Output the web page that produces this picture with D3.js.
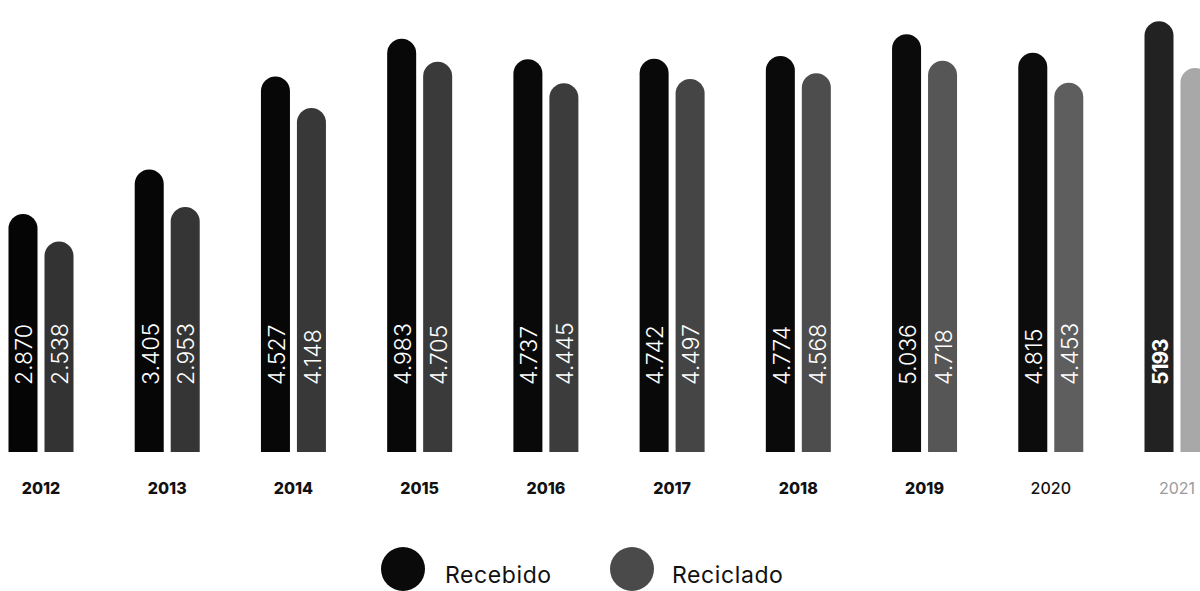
<!DOCTYPE html>
<html>
<head>
<meta charset="utf-8">
<script src="https://cdn.jsdelivr.net/npm/d3@7"></script>
<style>
  html, body { margin: 0; padding: 0; background: #fff; overflow: hidden; }
  svg { display: block; }
</style>
</head>
<body>
<svg id="chart" width="1200" height="591"></svg>
<script>
// ---- data ----
const years = ["2012", "2013", "2014", "2015", "2016", "2017", "2018", "2019", "2020", "2021"];
const series = ["Recebido", "Reciclado"];
const recebido = [2870, 3405, 4527, 4983, 4737, 4742, 4774, 5036, 4815, 5193];
const reciclado = [2538, 2953, 4148, 4705, 4445, 4497, 4568, 4718, 4453, 4630];
const recebidoLabels = ["2.870", "3.405", "4.527", "4.983", "4.737", "4.742", "4.774", "5.036", "4.815", "5193"];
const recicladoLabels = ["2.538", "2.953", "4.148", "4.705", "4.445", "4.497", "4.568", "4.718", "4.453", ""];

// ---- layout ----
const svg = d3.select("#chart");
const baseY = 452;

const x0 = d3.scalePoint().domain(years).range([41, 1177]);
const x1 = d3.scaleBand().domain(series).range([-32.5, 32.5]).paddingInner(0.194).paddingOuter(0);
const y = d3.scaleLinear().domain([0, 5450]).range([baseY, 0]);

const recColor = d3.scaleLinear().domain([0, 8, 9]).range(["#050505", "#0c0c0c", "#222222"]);
const recicColor = d3.scaleLinear().domain([0, 4, 8, 9]).range(["#333333", "#3c3c3c", "#5e5e5e", "#a8a8a8"]);

const rows = [];
years.forEach((yr, i) => {
  rows.push({ year: yr, i, s: "Recebido", v: recebido[i], label: recebidoLabels[i] });
  rows.push({ year: yr, i, s: "Reciclado", v: reciclado[i], label: recicladoLabels[i] });
});

function barPath(d) {
  const w = x1.bandwidth();
  const xl = x0(d.year) + x1(d.s);
  const top = y(d.v);
  const r = w / 2;
  return `M${xl},${baseY} L${xl},${top + r} A${r},${r} 0 0 1 ${xl + w},${top + r} L${xl + w},${baseY} Z`;
}

svg.append("g").selectAll("path")
  .data(rows)
  .join("path")
  .attr("d", barPath)
  .attr("fill", d => d.s === "Recebido" ? recColor(d.i) : recicColor(d.i));

// value labels (rotated)
svg.append("g").selectAll("text")
  .data(rows.filter(d => d.label))
  .join("text")
  .attr("transform", d => `translate(${x0(d.year) + x1(d.s) + x1.bandwidth() / 2 + 1},385) rotate(-90)`)
  .attr("dy", "0.36em")
  .attr("text-anchor", "start")
  .attr("font-family", "Inter, 'Open Sans', sans-serif")
  .attr("font-size", d => d.year === "2021" ? 21 : 23)
  .attr("font-weight", d => d.year === "2021" ? 700 : 300)
  .attr("letter-spacing", d => d.year === "2021" ? -1 : 0)
  .attr("fill", "#fff")
  .text(d => d.label);

// year axis labels
svg.append("g").selectAll("text")
  .data(years)
  .join("text")
  .attr("x", d => x0(d))
  .attr("y", 494)
  .attr("text-anchor", "middle")
  .attr("font-family", "Inter, 'Open Sans', sans-serif")
  .attr("font-size", 16)
  .attr("font-weight", d => d === "2020" ? 500 : (d === "2021" ? 400 : 800))
  .attr("fill", d => d === "2021" ? "#9a9a9a" : "#111")
  .text(d => d);

// legend
const legend = svg.append("g");
const legendItems = [
  { name: series[0], cx: 403, tx: 445, color: "#0a0a0a" },
  { name: series[1], cx: 632, tx: 672, color: "#4a4a4a" }
];
legend.selectAll("circle")
  .data(legendItems)
  .join("circle")
  .attr("cx", d => d.cx)
  .attr("cy", 569)
  .attr("r", 22)
  .attr("fill", d => d.color);
legend.selectAll("text")
  .data(legendItems)
  .join("text")
  .attr("x", d => d.tx)
  .attr("y", 583)
  .attr("font-family", "Inter, 'Open Sans', sans-serif")
  .attr("font-size", 23)
  .attr("font-weight", 400)
  .attr("letter-spacing", 0.6)
  .attr("fill", "#111")
  .text(d => d.name);
</script>
</body>
</html>
